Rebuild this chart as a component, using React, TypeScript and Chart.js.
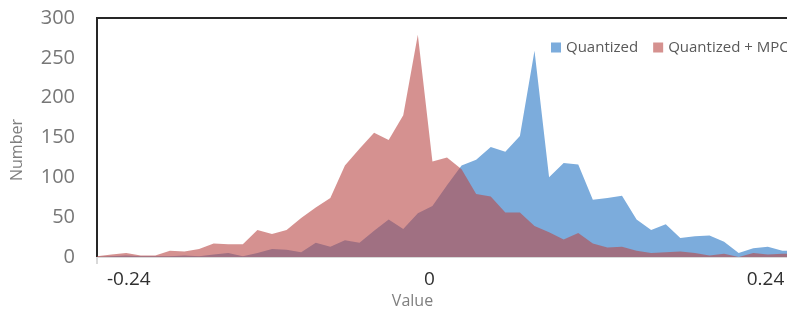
import React, { useEffect, useRef } from 'react';
import { Chart, registerables } from 'chart.js';

Chart.register(...registerables);

// ---- data ----
const seriesNames = ['Quantized', 'Quantized + MPC'];
const quantized = [
  0, 1, 2, 1, 1, 1, 2, 1, 3, 5, 1, 5, 10, 9, 6, 18, 13, 21, 18, 33, 47, 35, 55, 64, 90,
  115, 122, 138, 132, 152, 259, 100, 118, 116, 72, 74, 77, 47, 34, 41, 24, 26, 27, 19, 5,
  11, 13, 8, 8,
];
const quantizedMpc = [
  1, 3, 5, 2, 2, 8, 7, 10, 17, 16, 16, 34, 29, 34, 49, 62, 74, 115, 136, 156, 147, 178, 279,
  120, 125, 110, 79, 76, 56, 56, 39, 31, 22, 30, 17, 12, 13, 8, 5, 6, 7, 5, 2, 4, 0, 5, 3,
  4, 4,
];
const binIndex = quantized.map((_, i) => i);
const xTickLabels = ['-0.24', '0', '0.24'];
const xTickAt = [2.18, 22.79, 45.84];
const xTitle = 'Value';
const yTitle = 'Number';
const yMax = 300;
const yStep = 50;

const W = 820;
const H = 315;
const FONT = "'Open Sans', 'DejaVu Sans', sans-serif";
const BLUE = 'rgb(124,172,220)';
const RED = 'rgba(185,72,70,0.6)';

export default function App() {
  const ref = useRef<HTMLCanvasElement | null>(null);

  useEffect(() => {
    document.body.style.margin = '0';
    document.body.style.overflow = 'hidden';
    const canvas = ref.current;
    if (!canvas) return;

    const overlay = {
      id: 'overlay',
      afterDraw(chart: any) {
        const { ctx, chartArea } = chart;
        ctx.save();
        // top border
        ctx.strokeStyle = '#262626';
        ctx.lineWidth = 2;
        ctx.beginPath();
        ctx.moveTo(chartArea.left - 1, chartArea.top);
        ctx.lineTo(W, chartArea.top);
        ctx.stroke();
        // first tick mark
        ctx.strokeStyle = '#d9d9d9';
        ctx.beginPath();
        ctx.moveTo(chartArea.left, chartArea.bottom);
        ctx.lineTo(chartArea.left, chartArea.bottom + 7);
        ctx.stroke();
        // axis titles
        ctx.fillStyle = '#7f7f7f';
        ctx.font = `16px ${FONT}`;
        ctx.textAlign = 'center';
        ctx.textBaseline = 'middle';
        ctx.fillText(xTitle, 412.5, 301);
        ctx.save();
        ctx.translate(17, 150);
        ctx.rotate(-Math.PI / 2);
        ctx.fillText(yTitle, 0, 0);
        ctx.restore();
        // legend
        ctx.font = `15px ${FONT}`;
        ctx.textAlign = 'left';
        let x = 551;
        const cy = 47.5;
        const colors = [BLUE, 'rgb(213,145,143)'];
        seriesNames.forEach((name, i) => {
          ctx.fillStyle = colors[i];
          ctx.fillRect(x, cy - 5, 10, 10);
          ctx.fillStyle = '#595959';
          ctx.fillText(name, x + 15, cy);
          x += 15 + ctx.measureText(name).width + 15;
        });
        ctx.restore();
      },
    };

    const chart = new Chart(canvas, {
      type: 'line',
      data: {
        datasets: [
          {
            label: seriesNames[0],
            data: quantized.map((v, i) => ({ x: binIndex[i], y: v })),
            backgroundColor: BLUE,
            borderColor: 'transparent',
            borderWidth: 0,
            pointRadius: 0,
            fill: 'origin',
            tension: 0,
            order: 1,
          },
          {
            label: seriesNames[1],
            data: quantizedMpc.map((v, i) => ({ x: binIndex[i], y: v })),
            backgroundColor: RED,
            borderColor: 'transparent',
            borderWidth: 0,
            pointRadius: 0,
            fill: 'origin',
            tension: 0,
            order: 0,
          },
        ],
      },
      options: {
        responsive: false,
        animation: false,
        devicePixelRatio: 1,
        layout: { padding: { top: 18, right: W - 797, left: 0, bottom: 0 } },
        plugins: { legend: { display: false }, tooltip: { enabled: false } },
        scales: {
          x: {
            type: 'linear',
            min: 0,
            max: binIndex.length - 1,
            afterBuildTicks: (s: any) => {
              s.ticks = xTickAt.map((v) => ({ value: v }));
            },
            afterFit: (s: any) => {
              s.height = H - 18 - 239;
              s.paddingLeft = 0;
              s.paddingRight = 0;
            },
            ticks: {
              autoSkip: false,
              maxRotation: 0,
              padding: 11,
              color: '#303030',
              font: { family: FONT, size: 19 },
              callback: (_v: any, i: number) => xTickLabels[i],
            },
            grid: { display: false, drawTicks: false },
            border: { display: true, color: '#d9d9d9', width: 2 },
          },
          y: {
            min: 0,
            max: yMax,
            afterFit: (s: any) => {
              s.width = 97;
              s.paddingTop = 0;
              s.paddingBottom = 0;
            },
            ticks: {
              stepSize: yStep,
              padding: 22,
              color: '#777777',
              font: { family: FONT, size: 20 },
            },
            grid: { display: false, drawTicks: false },
            border: { display: true, color: '#262626', width: 2 },
          },
        },
      },
      plugins: [overlay],
    });
    return () => chart.destroy();
  }, []);

  return (
    <div style={{ width: 787, height: H, overflow: 'hidden' }}>
      <canvas ref={ref} width={W} height={H} style={{ display: 'block', width: W, height: H }} />
    </div>
  );
}
